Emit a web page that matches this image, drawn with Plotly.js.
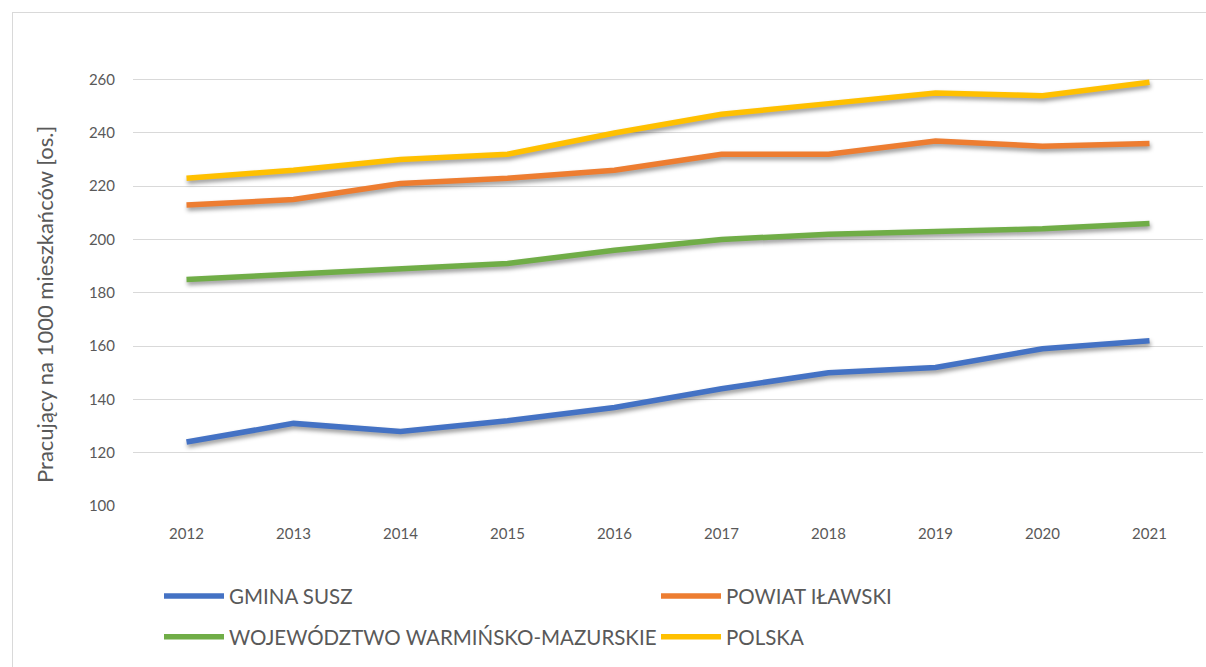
<!DOCTYPE html>
<html>
<head>
<meta charset="utf-8">
<script src="https://cdn.plot.ly/plotly-3.0.1.min.js"></script>
<style>
  html, body { margin: 0; padding: 0; background: #ffffff; }
  #wrap { position: relative; width: 1206px; height: 667px; overflow: hidden; }
  #chart { width: 1206px; height: 667px; }
  #frame { position: absolute; left: 12px; top: 12px; width: 1300px; height: 800px;
           border: 1px solid #d9d9d9; pointer-events: none; box-sizing: border-box; }
  #chart .scatterlayer .js-line { filter: drop-shadow(1px 3px 2px rgba(0,0,0,0.4)); }
</style>
</head>
<body>
<div id="wrap">
  <div id="chart"></div>
  <div id="frame"></div>
</div>
<script>
const years = ['2012','2013','2014','2015','2016','2017','2018','2019','2020','2021'];
const gminaSusz = [124, 131, 128, 132, 137, 144, 150, 152, 159, 162];
const powiatIlawski = [213, 215, 221, 223, 226, 232, 232, 237, 235, 236];
const wojewodztwo = [185, 187, 189, 191, 196, 200, 202, 203, 204, 206];
const polska = [223, 226, 230, 232, 240, 247, 251, 255, 254, 259];
const seriesNames = ['GMINA SUSZ', 'POWIAT IŁAWSKI', 'WOJEWÓDZTWO WARMIŃSKO-MAZURSKIE', 'POLSKA'];
const yTicks = [100, 120, 140, 160, 180, 200, 220, 240, 260];
const yTitle = 'Pracujący na 1000 mieszkańców [os.]';

const colors = ['#4472C4', '#ED7D31', '#70AD47', '#FFC000'];
const legendRefs = ['legend', 'legend', 'legend2', 'legend2'];
const data = [gminaSusz, powiatIlawski, wojewodztwo, polska].map((vals, i) => ({
  type: 'scatter',
  mode: 'lines',
  x: years,
  y: vals,
  name: seriesNames[i],
  legend: legendRefs[i],
  line: { color: colors[i], width: 5.5 },
  cliponaxis: false
}));

const legendCommon = {
  orientation: 'h',
  x: 0.0243,
  xanchor: 'left',
  yanchor: 'middle',
  entrywidth: 422,
  entrywidthmode: 'pixels',
  itemwidth: 60,
  font: { size: 20.5, color: '#595959' },
  bgcolor: 'rgba(0,0,0,0)'
};

const layout = {
  width: 1206,
  height: 667,
  paper_bgcolor: '#ffffff',
  plot_bgcolor: '#ffffff',
  margin: { l: 133, r: 3, t: 53.4, b: 161 },
  font: { family: 'Lato, "Open Sans", sans-serif', color: '#595959', size: 15 },
  showlegend: true,
  xaxis: {
    type: 'category',
    range: [-0.5, 9.5],
    showgrid: false,
    zeroline: false,
    showline: false,
    ticks: 'outside',
    ticklen: 14,
    tickcolor: 'rgba(0,0,0,0)',
    tickfont: { size: 15, color: '#595959' }
  },
  yaxis: {
    range: [100, 270],
    tickvals: yTicks,
    ticktext: yTicks.map(String),
    showgrid: true,
    gridcolor: '#d9d9d9',
    gridwidth: 1,
    zeroline: false,
    showline: false,
    ticks: 'outside',
    ticklen: 14,
    tickcolor: 'rgba(0,0,0,0)',
    tickfont: { size: 15, color: '#595959' }
  },
  annotations: [{
    text: yTitle,
    xref: 'paper', yref: 'paper',
    x: -0.0822, y: 0.444,
    xanchor: 'center', yanchor: 'middle',
    textangle: -90,
    showarrow: false,
    font: { size: 22, color: '#595959' }
  }],
  legend: Object.assign({}, legendCommon, { y: -0.199 }),
  legend2: Object.assign({}, legendCommon, { y: -0.289 })
};

Plotly.newPlot('chart', data, layout, { displayModeBar: false, staticPlot: true });
</script>
</body>
</html>
